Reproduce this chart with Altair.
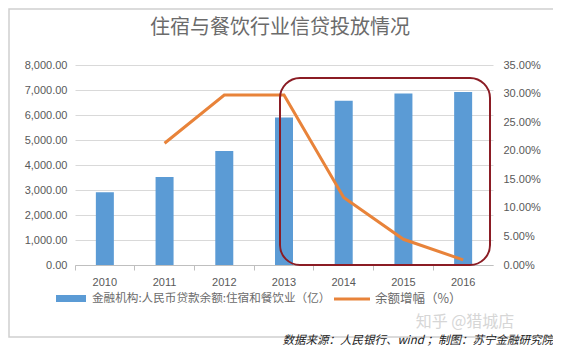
import altair as alt
import pandas as pd

years = ["2010", "2011", "2012", "2013", "2014", "2015", "2016"]
balance = [2910, 3520, 4560, 5900, 6570, 6860, 6920]
growth_years = ["2011", "2012", "2013", "2014", "2015", "2016"]
growth = [0.213, 0.2975, 0.2975, 0.118, 0.045, 0.009]

title_text = "住宿与餐饮行业信贷投放情况"
bar_label = "金融机构:人民币贷款余额:住宿和餐饮业（亿）"
line_label = "余额增幅（%）"
source_text = "数据来源：人民银行、wind ；制图：苏宁金融研究院"
watermark = "知乎 @猎城店"

bar_df = pd.DataFrame({"year": years, "balance": balance})
line_df = pd.DataFrame({"year": growth_years, "growth": growth})

FONT = "Noto Sans CJK SC"
GRAY = "#595959"
BLUE = "#5B9BD5"
ORANGE = "#E8833A"

xenc = alt.X("year:N", sort=years, title=None,
             scale=alt.Scale(paddingInner=0, paddingOuter=0),
             axis=alt.Axis(labelAngle=0, labelFontSize=11, labelColor=GRAY,
                           labelFont="Liberation Sans", labelPadding=6,
                           domainColor="#bfbfbf", tickColor="#bfbfbf",
                           tickSize=5, bandPosition=0, grid=False))

bars = alt.Chart(bar_df).mark_bar(color=BLUE, size=18).encode(
    x=xenc,
    y=alt.Y("balance:Q", title=None,
            scale=alt.Scale(domain=[0, 8000]),
            axis=alt.Axis(format=",.2f", values=list(range(0, 8001, 1000)),
                          labelFontSize=11, labelColor=GRAY,
                          labelFont="Liberation Sans", labelPadding=8,
                          domain=False, ticks=False, gridColor="#d9d9d9")),
)

line = alt.Chart(line_df).mark_line(color=ORANGE, strokeWidth=3).encode(
    x=alt.X("year:N", sort=years, bandPosition=0.5),
    y=alt.Y("growth:Q", title=None,
            scale=alt.Scale(domain=[0, 0.35]),
            axis=alt.Axis(orient="right", format=".2%",
                          values=[0, 0.05, 0.1, 0.15, 0.2, 0.25, 0.3, 0.35],
                          labelFontSize=11, labelColor=GRAY,
                          labelFont="Liberation Sans", labelPadding=10,
                          domain=False, ticks=False, grid=False)),
)

one = alt.Data(values=[{}])

frame = alt.Chart(one).mark_rect(fill=None, stroke="#d0d0d0", strokeWidth=1.5).encode(
    x=alt.value(-66), x2=alt.value(480), y=alt.value(-56), y2=alt.value(272))

highlight = alt.Chart(one).mark_rect(fill=None, stroke="#8B1C24", strokeWidth=2,
                                     cornerRadius=20).encode(
    x=alt.value(205), x2=alt.value(415), y=alt.value(13), y2=alt.value(200))

title = alt.Chart(one).mark_text(text=title_text, font=FONT, fontSize=20,
                                 color="#6b6b6b", align="center", baseline="middle").encode(
    x=alt.value(205), y=alt.value(-37))

leg_bar = alt.Chart(one).mark_rect(color=BLUE).encode(
    x=alt.value(-19), x2=alt.value(11), y=alt.value(230), y2=alt.value(237))
leg_bar_t = alt.Chart(one).mark_text(text=bar_label, font=FONT, fontSize=11.6,
                                     color="#6b6b6b", align="left", baseline="middle").encode(
    x=alt.value(17), y=alt.value(234))
leg_line = alt.Chart(one).mark_rule(color=ORANGE, strokeWidth=3).encode(
    x=alt.value(259), x2=alt.value(295), y=alt.value(234))
leg_line_t = alt.Chart(one).mark_text(text=line_label, font=FONT, fontSize=12.5,
                                      color="#6b6b6b", align="left", baseline="middle").encode(
    x=alt.value(300), y=alt.value(234))

wm = alt.Chart(one).mark_text(text=watermark, font=FONT, fontSize=16,
                              color="#d6d6d6", align="center", baseline="middle").encode(
    x=alt.value(390), y=alt.value(257))

src = alt.Chart(one).mark_text(text=source_text, font=FONT, fontSize=11.5,
                               fontStyle="italic", color="#222222", align="right",
                               baseline="middle").encode(
    x=alt.value(478), y=alt.value(276))

chart = alt.layer(
    frame, bars, line, highlight, title, leg_bar, leg_bar_t, leg_line, leg_line_t, wm, src
).resolve_scale(y="independent").properties(
    width=418, height=200,
    autosize=alt.AutoSizeParams(type="none"),
    padding={"left": 67, "top": 57, "right": 60, "bottom": 84},
    background="white",
).configure_view(stroke=None)

chart.save("out.html", embed_options={"renderer": "svg", "actions": False})
